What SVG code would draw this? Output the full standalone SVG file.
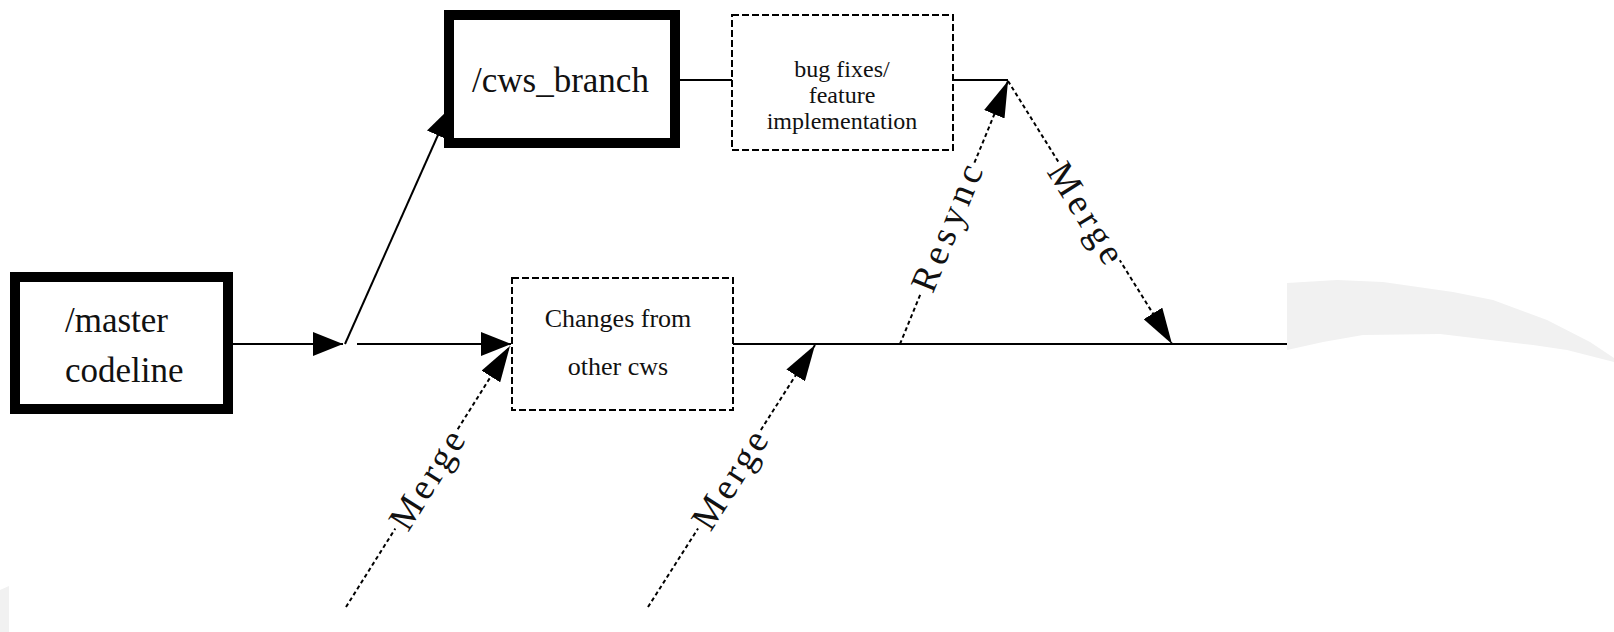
<svg xmlns="http://www.w3.org/2000/svg" width="1614" height="632" viewBox="0 0 1614 632">
<style>
.thick{fill:#fff;stroke:#000;stroke-width:10}
.dbox{fill:#fff;stroke:#000;stroke-width:2;stroke-dasharray:7 3}
.big{font-family:"Liberation Serif","Times New Roman",serif;font-size:35px;fill:#111}
.mid{font-family:"Liberation Serif","Times New Roman",serif;font-size:26px;fill:#111}
.sm{font-family:"Liberation Serif","Times New Roman",serif;font-size:24px;fill:#111;text-anchor:middle}
.lbl{font-family:"Liberation Serif","Times New Roman",serif;font-size:37px;fill:#111;text-anchor:middle}
.solid{fill:none;stroke:#000;stroke-width:2}
.dot{fill:none;stroke:#000;stroke-width:2;stroke-dasharray:4 3}
.bg{fill:#f1f1f1}
.wb{fill:#fff}
</style>
<defs>
<marker id="ah" markerUnits="userSpaceOnUse" viewBox="0 0 30 24" markerWidth="30" markerHeight="24" refX="30" refY="12" orient="auto"><path d="M0,0 L30,12 L0,24 z" fill="#000"/></marker>
<marker id="ahd" markerUnits="userSpaceOnUse" viewBox="0 0 36 22" markerWidth="36" markerHeight="22" refX="36" refY="11" orient="auto"><path d="M0,0 L36,11 L0,22 z" fill="#000"/></marker>
</defs>
<rect width="1614" height="632" fill="#fff"/>
<g id="decor">
<polygon class="bg" points="1287,283 1337,280 1383,282 1453,292 1493,300 1547,320 1590,342 1614,358 1614,362 1567,350 1533,345 1440,334 1363,335 1323,342 1287,350"/>
<polygon class="bg" points="0,590 9,586 9,632 0,632"/>
</g>
<g id="connectors">
<line class="solid" x1="233" y1="344" x2="343" y2="344" marker-end="url(#ah)"/>
<line class="solid" x1="345" y1="344" x2="450" y2="108" marker-end="url(#ah)"/>
<line class="solid" x1="357" y1="344" x2="511" y2="344" marker-end="url(#ah)"/>
<line class="solid" x1="733" y1="344" x2="1287" y2="344"/>
<line class="solid" x1="680" y1="80" x2="732" y2="80"/>
<line class="solid" x1="953" y1="80" x2="1008" y2="80"/>
<line class="dot" x1="346" y1="607" x2="510" y2="346" marker-end="url(#ahd)"/>
<line class="dot" x1="648" y1="607" x2="815" y2="345" marker-end="url(#ahd)"/>
<line class="dot" x1="900" y1="344" x2="1008" y2="81" marker-end="url(#ahd)"/>
<line class="dot" x1="1008" y1="81" x2="1172" y2="344" marker-end="url(#ahd)"/>
<g transform="translate(947,228) rotate(-67.7)"><rect class="wb" x="-70" y="-14" width="140" height="28"/><text class="lbl" y="12" textLength="134" lengthAdjust="spacing">Resync</text></g>
<g transform="translate(1086,213) rotate(58.2)"><rect class="wb" x="-58" y="-14" width="116" height="28"/><text class="lbl" y="12" textLength="112" lengthAdjust="spacing">Merge</text></g>
<g transform="translate(427,480) rotate(-57.9)"><rect class="wb" x="-58" y="-14" width="116" height="28"/><text class="lbl" y="12" textLength="110" lengthAdjust="spacing">Merge</text></g>
<g transform="translate(730,480) rotate(-57.5)"><rect class="wb" x="-58" y="-14" width="116" height="28"/><text class="lbl" y="12" textLength="110" lengthAdjust="spacing">Merge</text></g>
</g>
<g id="master">
<rect class="thick" x="15" y="277" width="213" height="132"/>
<text class="big" x="65" y="332">/master</text>
<text class="big" x="65" y="382">codeline</text>
</g>
<g id="cws_branch">
<rect class="thick" x="449" y="15" width="226" height="128"/>
<text class="big" x="472" y="92">/cws_branch</text>
</g>
<g id="bugfixes">
<rect class="dbox" x="732" y="15" width="221" height="135"/>
<text class="sm" x="842" y="77">bug fixes/</text>
<text class="sm" x="842" y="103">feature</text>
<text class="sm" x="842" y="129">implementation</text>
</g>
<g id="changes">
<rect class="dbox" x="512" y="278" width="221" height="132"/>
<text class="mid" x="618" y="327" text-anchor="middle">Changes from</text>
<text class="mid" x="618" y="375" text-anchor="middle">other cws</text>
</g>
</svg>
